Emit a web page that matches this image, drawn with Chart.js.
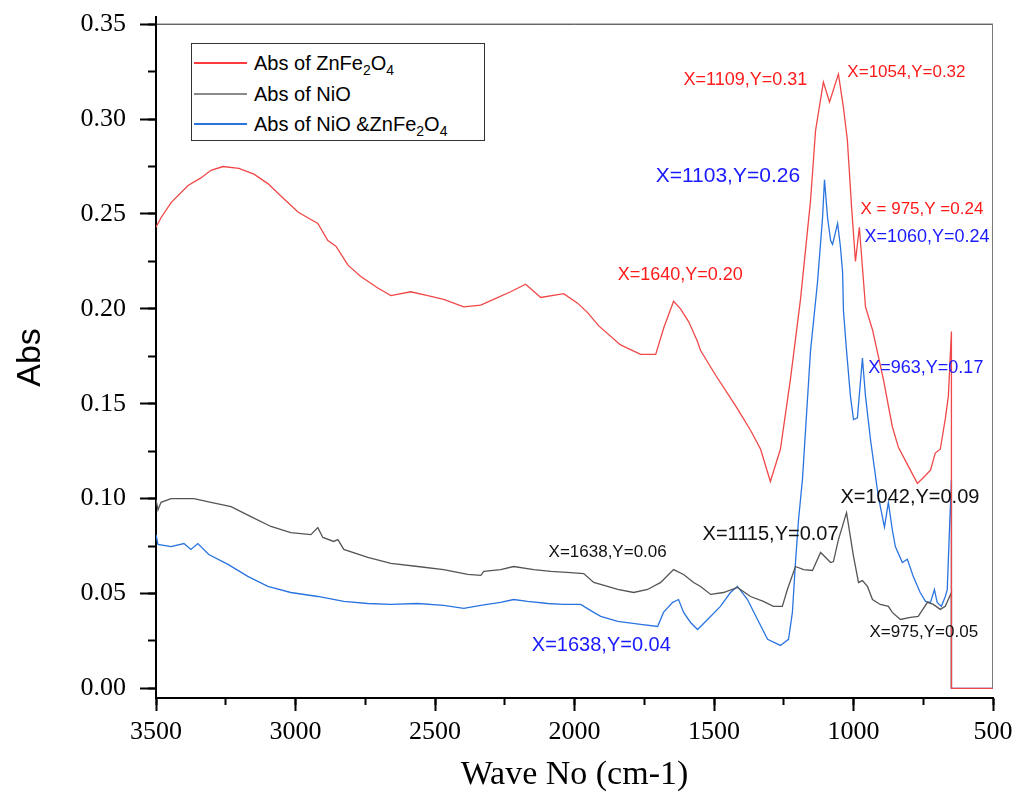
<!DOCTYPE html>
<html lang="en">
<head>
<meta charset="UTF-8">
<title>Abs spectra</title>
<script src="https://cdn.jsdelivr.net/npm/chart.js"></script>
<style>
  body { margin: 0; background: #fff; }
  #wrap { position: relative; width: 1019px; height: 803px; }
  #legend {
    position: absolute; left: 191px; top: 43px; width: 292px; height: 96px;
    border: 1px solid #333; background: #fff;
    font-family: "Liberation Sans", Arial, sans-serif; font-size: 20px; color: #000;
  }
  .row { position: absolute; left: 0; height: 30px; line-height: 30px; white-space: nowrap; }
  .swatch { position: absolute; left: 2px; top: 14px; width: 53px; height: 2px; }
  .txt { position: absolute; left: 62px; top: 0; }
  sub { font-size: 14px; line-height: 0; }
</style>
</head>
<body>
<div id="wrap">
  <canvas id="absChart" width="1019" height="803"></canvas>
  <div id="legend"></div>
</div>
<script>
// ZnFe2O4 (red)
const waveRed = [3500, 3482, 3446, 3385, 3339, 3303, 3260, 3203, 3149, 3099, 3042, 2991, 2956, 2920, 2884, 2855, 2812, 2766, 2705, 2658, 2587, 2526, 2469, 2397, 2336, 2290, 2229, 2175, 2121, 2039, 1989, 1953, 1913, 1835, 1763, 1709, 1680, 1645, 1620, 1590, 1560, 1548, 1494, 1423, 1369, 1333, 1298, 1262, 1226, 1190, 1154, 1136, 1108, 1086, 1054, 1036, 1022, 1007, 993, 979, 957, 932, 893, 861, 839, 807, 771, 750, 724, 707, 689, 671, 660, 649, 649, 500];
const absRed = [0.243, 0.248, 0.256, 0.265, 0.269, 0.273, 0.275, 0.274, 0.271, 0.266, 0.258, 0.251, 0.248, 0.245, 0.236, 0.233, 0.223, 0.217, 0.211, 0.207, 0.209, 0.207, 0.205, 0.201, 0.202, 0.205, 0.209, 0.213, 0.206, 0.208, 0.203, 0.198, 0.191, 0.181, 0.176, 0.176, 0.190, 0.204, 0.200, 0.193, 0.183, 0.178, 0.165, 0.149, 0.136, 0.126, 0.109, 0.126, 0.163, 0.205, 0.257, 0.294, 0.3195, 0.309, 0.3237, 0.306, 0.289, 0.254, 0.225, 0.243, 0.201, 0.189, 0.163, 0.138, 0.127, 0.118, 0.108, 0.111, 0.115, 0.124, 0.126, 0.142, 0.154, 0.188, 0, 0];

// NiO (gray)
const waveGray = [3500, 3493, 3482, 3446, 3364, 3303, 3231, 3160, 3088, 3017, 2945, 2920, 2902, 2863, 2848, 2827, 2741, 2658, 2562, 2469, 2383, 2336, 2325, 2265, 2218, 2146, 2085, 2014, 1967, 1931, 1845, 1788, 1738, 1691, 1645, 1609, 1573, 1548, 1512, 1466, 1416, 1369, 1323, 1287, 1255, 1237, 1208, 1179, 1147, 1118, 1082, 1072, 1054, 1025, 1000, 982, 968, 950, 932, 904, 875, 861, 832, 796, 768, 735, 714, 689, 671, 649, 649];
const absGray = [0.0995, 0.094, 0.098, 0.100, 0.100, 0.098, 0.0958, 0.0905, 0.0853, 0.0821, 0.081, 0.0847, 0.0795, 0.0774, 0.0784, 0.0732, 0.069, 0.0658, 0.0642, 0.0626, 0.060, 0.0595, 0.0616, 0.0626, 0.0642, 0.0626, 0.0616, 0.061, 0.0605, 0.0558, 0.0521, 0.0505, 0.0521, 0.0558, 0.0626, 0.060, 0.0558, 0.0537, 0.0495, 0.0505, 0.0532, 0.0484, 0.0458, 0.0432, 0.0432, 0.0521, 0.0642, 0.0626, 0.0621, 0.0716, 0.0663, 0.0668, 0.0784, 0.0926, 0.0695, 0.0558, 0.0568, 0.0537, 0.0468, 0.0442, 0.0432, 0.040, 0.0363, 0.0374, 0.0379, 0.0453, 0.0442, 0.0416, 0.0432, 0.0505, 0];

// NiO & ZnFe2O4 (blue)
const waveBlue = [3500, 3493, 3446, 3400, 3375, 3350, 3311, 3242, 3171, 3099, 3017, 2920, 2827, 2741, 2658, 2562, 2469, 2397, 2336, 2265, 2218, 2168, 2096, 2039, 1978, 1931, 1906, 1845, 1763, 1702, 1681, 1648, 1627, 1609, 1584, 1559, 1523, 1477, 1441, 1416, 1380, 1344, 1308, 1262, 1233, 1219, 1208, 1197, 1183, 1154, 1129, 1111, 1104, 1093, 1082, 1075, 1057, 1047, 1039, 1036, 1025, 1011, 1000, 986, 968, 957, 939, 911, 889, 875, 861, 850, 825, 807, 786, 761, 742, 724, 710, 700, 685, 671, 664, 656, 649, 649, 500];
const absBlue = [0.081, 0.0758, 0.0747, 0.0763, 0.0732, 0.0763, 0.0705, 0.0653, 0.059, 0.0537, 0.0505, 0.0484, 0.0458, 0.0447, 0.0442, 0.0447, 0.0437, 0.0421, 0.0437, 0.0453, 0.0468, 0.0458, 0.0447, 0.0442, 0.0442, 0.040, 0.0379, 0.0353, 0.0337, 0.0326, 0.040, 0.0453, 0.0468, 0.040, 0.0347, 0.031, 0.0363, 0.0432, 0.0505, 0.0537, 0.0468, 0.0363, 0.0258, 0.0226, 0.0258, 0.040, 0.0663, 0.089, 0.110, 0.178, 0.214, 0.248, 0.268, 0.248, 0.236, 0.234, 0.245, 0.233, 0.219, 0.199, 0.178, 0.154, 0.1416, 0.1426, 0.174, 0.154, 0.131, 0.101, 0.085, 0.098, 0.0837, 0.0747, 0.0663, 0.068, 0.059, 0.0505, 0.0458, 0.0453, 0.052, 0.0453, 0.0432, 0.0484, 0.052, 0.0837, 0.110, 0, 0];

// outline traces at the right end and top of the plot
const waveEdge = [500, 500];
const absEdge = [0, 0.35];
const waveTop = [500, 3500];
const absTop = [0.35, 0.35];

const seriesNames = ['Abs of ZnFe<sub>2</sub>O<sub>4</sub>', 'Abs of NiO', 'Abs of NiO &amp;ZnFe<sub>2</sub>O<sub>4</sub>'];
const seriesColors = ['#f04848', '#555555', '#2a74e0'];
const legendColors = ['#ff3c3c', '#8a8a8a', '#2a74e0'];

// peak labels
const annoText = ['X=1109,Y=0.31', 'X=1054,Y=0.32', 'X=1103,Y=0.26', 'X = 975,Y =0.24', 'X=1060,Y=0.24', 'X=1640,Y=0.20', 'X=963,Y=0.17', 'X=1042,Y=0.09', 'X=1115,Y=0.07', 'X=1638,Y=0.06', 'X=1638,Y=0.04', 'X=975,Y=0.05'];
const annoWave = [1609, 1022, 1709, 975, 961, 1845, 947, 1047, 1541, 2093, 2153, 943];
const annoAbs = [0.3205, 0.3247, 0.2700, 0.2526, 0.2379, 0.2179, 0.1689, 0.1005, 0.0811, 0.0716, 0.0226, 0.0295];
const annoColor = ['#ff1a1a', '#ff1a1a', '#1a1aff', '#ff1a1a', '#1a1aff', '#ff1a1a', '#1a1aff', '#111', '#111', '#111', '#1a1aff', '#111'];
const annoSize = [18, 17, 21, 17, 18, 18, 18, 20, 20, 17, 20, 17];

const toPoints = (w, a) => w.map((x, i) => ({ x: x, y: a[i] }));

const sans = '"Liberation Sans", Arial, sans-serif';
const serif = '"Liberation Serif", "Times New Roman", serif';
Chart.defaults.font.family = serif;
Chart.defaults.color = '#000';

const annoPlugin = {
    id: 'peakLabels',
    afterDatasetsDraw(chart) {
        const c = chart.ctx;
        const xs = chart.scales.x, ys = chart.scales.y;
        c.save();
        c.textAlign = 'left';
        c.textBaseline = 'middle';
        annoText.forEach((t, i) => {
            c.font = annoSize[i] + 'px ' + sans;
            c.fillStyle = annoColor[i];
            c.fillText(t, xs.getPixelForValue(annoWave[i]), ys.getPixelForValue(annoAbs[i]));
        });
        c.restore();
    }
};

const lineOpts = { borderWidth: 1.3, pointRadius: 0, tension: 0, fill: false };

new Chart(document.getElementById('absChart'), {
    type: 'line',
    data: {
        datasets: [
            Object.assign({ label: 'edge', data: toPoints(waveEdge, absEdge), borderColor: '#7a7a7a' }, lineOpts, { borderWidth: 2 }),
            Object.assign({ label: 'top', data: toPoints(waveTop, absTop), borderColor: '#222' }, lineOpts, { borderWidth: 1 }),
            Object.assign({ label: 'ZnFe2O4', data: toPoints(waveRed, absRed), borderColor: seriesColors[0] }, lineOpts),
            Object.assign({ label: 'NiO', data: toPoints(waveGray, absGray), borderColor: seriesColors[1] }, lineOpts),
            Object.assign({ label: 'NiO & ZnFe2O4', data: toPoints(waveBlue, absBlue), borderColor: seriesColors[2] }, lineOpts)
        ]
    },
    options: {
        responsive: false,
        animation: false,
        layout: { padding: { top: 17, right: 26, left: 0, bottom: 0 } },
        plugins: { legend: { display: false }, tooltip: { enabled: false } },
        scales: {
            x: {
                type: 'linear', position: 'bottom', weight: 1,
                min: 500, max: 3500, reverse: true,
                ticks: { stepSize: 500, color: '#000', font: { size: 26 }, padding: 6, maxRotation: 0, callback: v => String(v) },
                grid: { drawOnChartArea: false, tickLength: 13, tickWidth: 2, tickColor: '#000' },
                border: { color: '#000', width: 2 },
                title: { display: true, text: 'Wave No (cm-1)', color: '#000', font: { size: 34 }, padding: { top: 0, bottom: 8 } },
                afterFit: s => { s.height = 105; s.paddingLeft = 0; s.paddingRight = 0; }
            },
            xMinor: {
                type: 'linear', position: 'bottom', weight: 0,
                min: 500, max: 3500, reverse: true,
                ticks: { stepSize: 250, display: false },
                grid: { drawOnChartArea: false, tickLength: 7, tickWidth: 2, tickColor: '#000' },
                border: { display: false },
                afterFit: s => { s.height = 0; s.paddingLeft = 0; s.paddingRight = 0; }
            },
            y: {
                position: 'left', weight: 1,
                min: -0.0051, max: 0.3538,
                ticks: { stepSize: 0.05, includeBounds: false, color: '#000', font: { size: 26 }, padding: 14, callback: v => v.toFixed(2) },
                grid: { drawOnChartArea: false, tickLength: 16, tickWidth: 2, tickColor: '#000' },
                border: { color: '#000', width: 2 },
                title: { display: true, text: 'Abs', color: '#000', font: { family: sans, size: 34 }, padding: { top: 10, bottom: 0 } },
                afterFit: s => { s.width = 156; s.paddingTop = 0; s.paddingBottom = 0; }
            },
            yMinor: {
                position: 'left', weight: 0,
                min: -0.0051, max: 0.3538,
                ticks: { stepSize: 0.025, includeBounds: false, display: false },
                grid: { drawOnChartArea: false, tickLength: 8, tickWidth: 2, tickColor: '#000' },
                border: { display: false },
                afterFit: s => { s.width = 0; s.paddingTop = 0; s.paddingBottom = 0; }
            }
        }
    },
    plugins: [annoPlugin]
});

// legend box
const legend = document.getElementById('legend');
seriesNames.forEach((name, i) => {
    const row = document.createElement('div');
    row.className = 'row';
    row.style.top = (4 + i * 30.5) + 'px';
    const sw = document.createElement('span');
    sw.className = 'swatch';
    sw.style.backgroundColor = legendColors[i];
    const tx = document.createElement('span');
    tx.className = 'txt';
    tx.innerHTML = name;
    row.appendChild(sw);
    row.appendChild(tx);
    legend.appendChild(row);
});
</script>
</body>
</html>
